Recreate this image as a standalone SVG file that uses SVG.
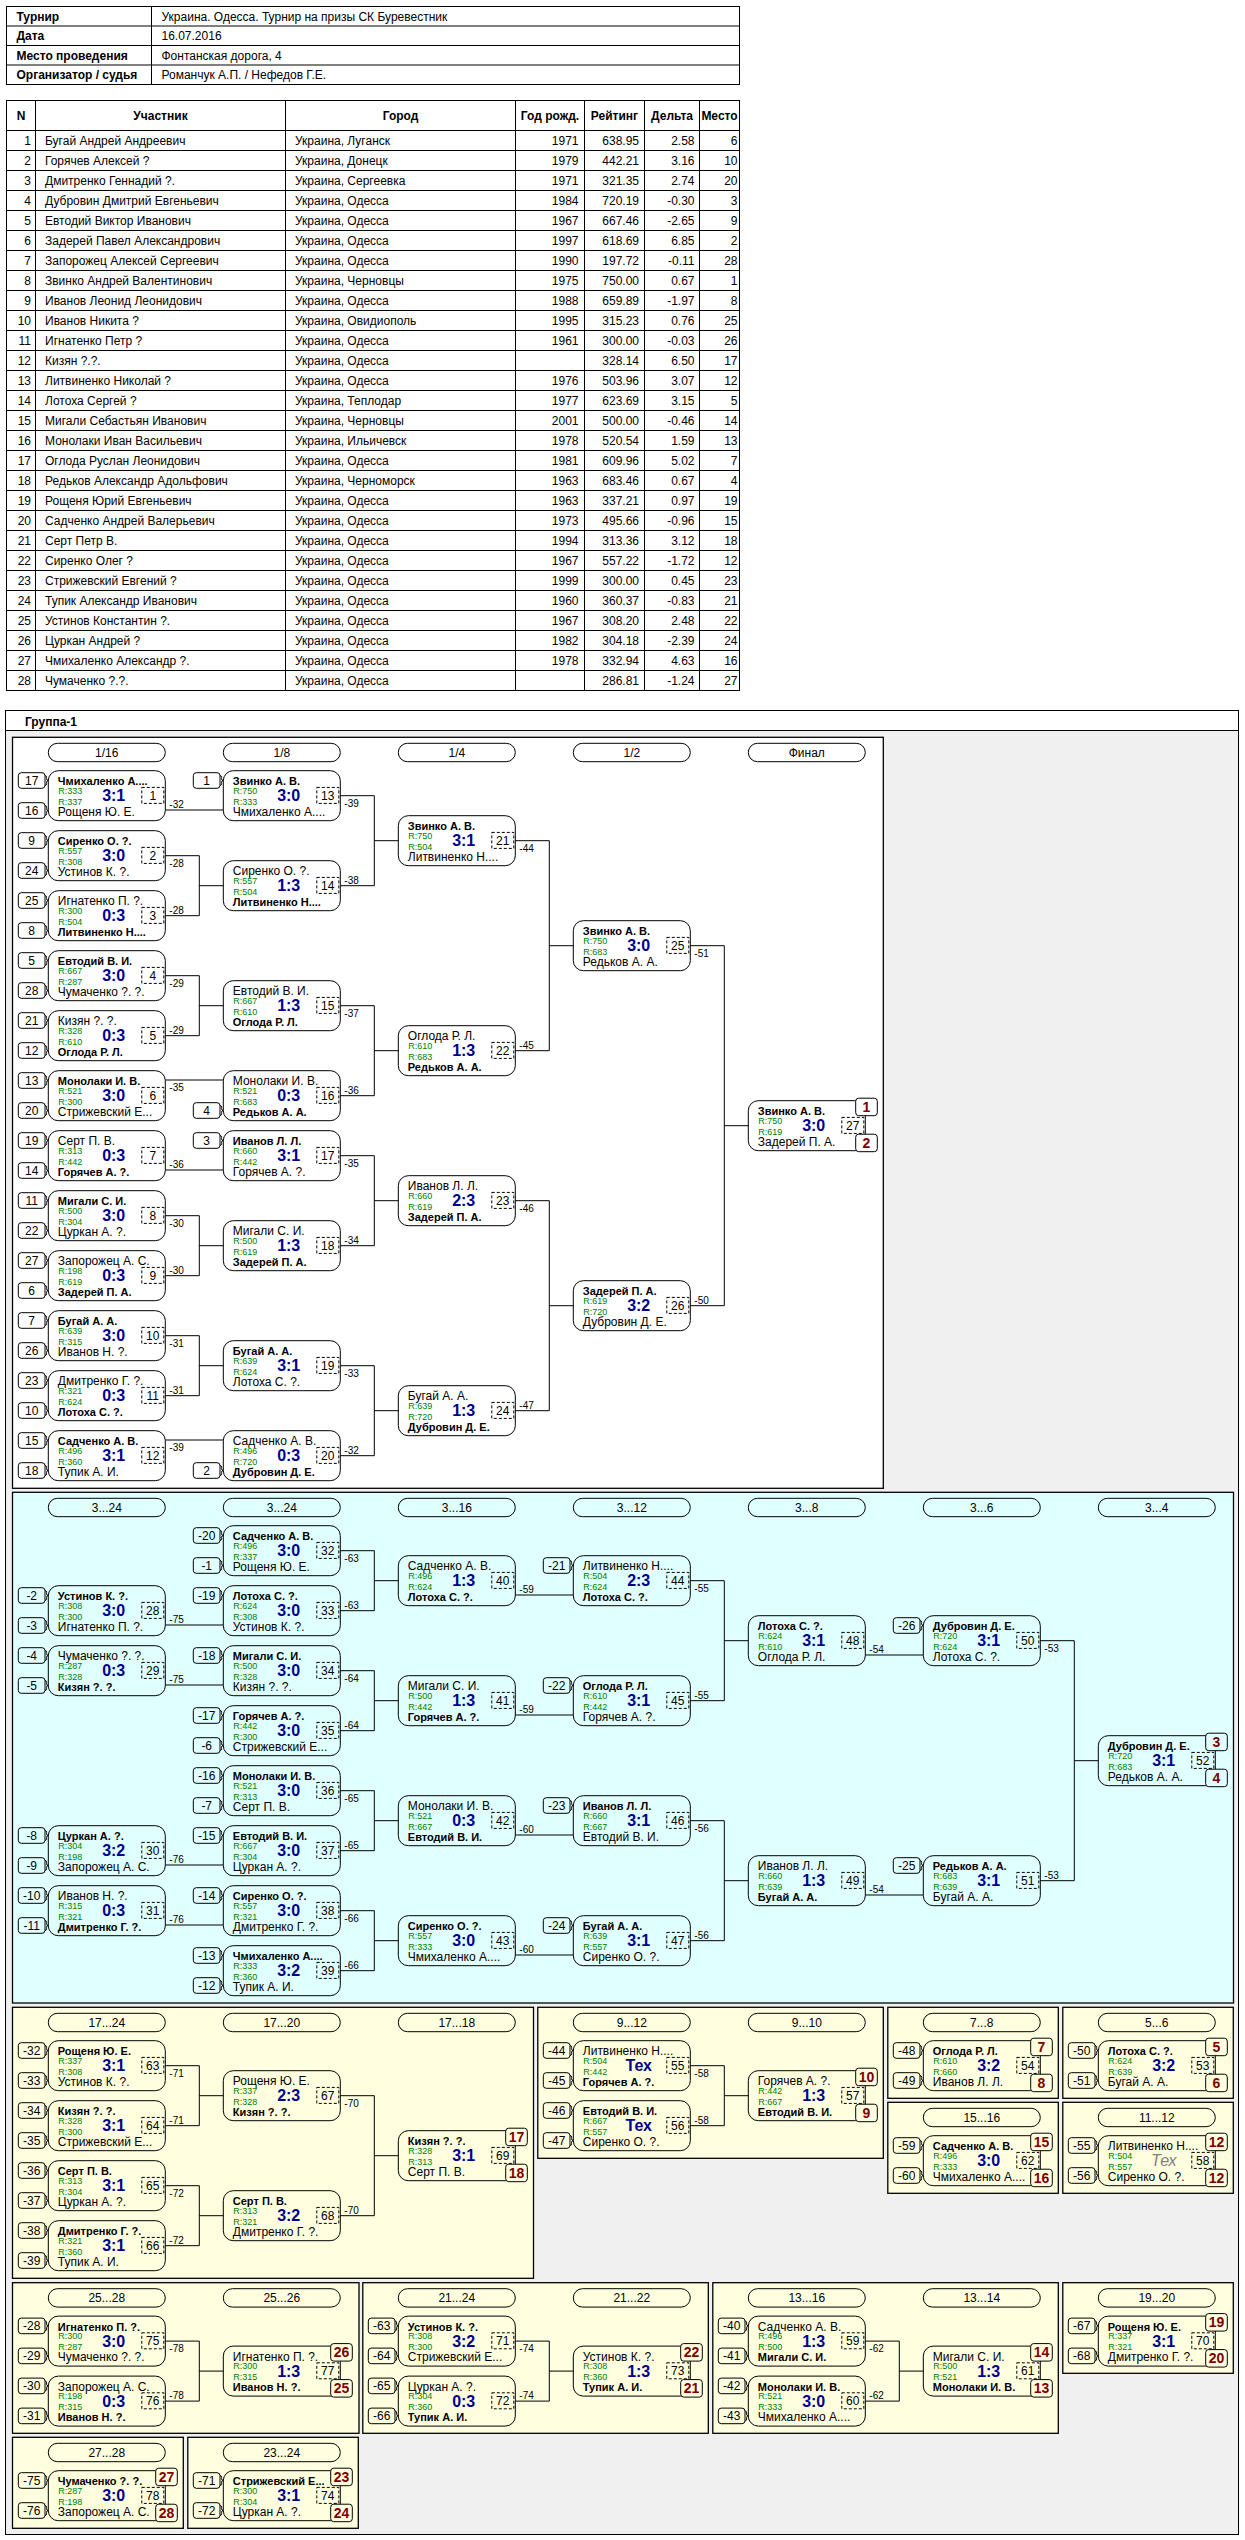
<svg xmlns="http://www.w3.org/2000/svg" width="1245" height="2540" viewBox="0 0 1245 2540">
<style>
text{font-family:"Liberation Sans",Arial,sans-serif;font-size:12px;fill:#000}
.hb{font-weight:bold}
.c{text-anchor:middle}
.e{text-anchor:end}
.nb{font-weight:bold;font-size:11px}
.r{font-size:9px;fill:#008000}
.s{font-weight:bold;font-size:16px;fill:#000090;text-anchor:middle}
.tx{font-style:italic;font-size:16px;fill:#808080;text-anchor:middle}
.l{font-size:10px}
.p{font-weight:bold;font-size:14px;fill:#800000;text-anchor:middle}
.mb,.db,.sb,.cn,.pl{fill:none;stroke:#000;stroke-width:1}
.db{stroke-dasharray:3 2}
.pbx{stroke:#000;stroke-width:1}
.pan{stroke:#000;stroke-width:1.3}
.tl{fill:none;stroke:#000;stroke-width:1}
</style>
<defs>
<g id="mf"><rect class="mb" width="117" height="50" rx="10"/><rect class="db" x="93.5" y="16.7" width="22" height="16"/></g>
<g id="sT"><rect class="sb" x="-30" y="2" width="26.7" height="15.6" rx="3"/><path class="cn" d="M-3.3,4.8q1.6,0 1.6,2v1.2q0,1.8 1.7,1.8q-1.7,0 -1.7,1.8v1.2q0,2 -1.6,2"/></g>
<g id="sB"><rect class="sb" x="-30" y="32" width="26.7" height="15.6" rx="3"/><path class="cn" d="M-3.3,34.8q1.6,0 1.6,2v1.2q0,1.8 1.7,1.8q-1.7,0 -1.7,1.8v1.2q0,2 -1.6,2"/></g>
<rect id="pT" class="pbx" x="107.4" y="-2.5" width="21.6" height="17.5" rx="3"/>
<rect id="pB" class="pbx" x="107.4" y="33.5" width="21.6" height="17.5" rx="3"/>
<rect id="pill" class="pl" width="117" height="18.4" rx="9.2"/>
</defs>
<rect width="1245" height="2540" fill="#fff"/>

<g id="info-table">
<rect x="6.5" y="6.5" width="733" height="78" fill="#fff" stroke="#000"/>
<path class="tl" d="M6.5,26H739.5M6.5,45.5H739.5M6.5,65H739.5M151.5,6.5V84.5"/>
<text class="hb" x="16.5" y="20.5">Турнир</text><text x="161.5" y="20.5">Украина. Одесса. Турнир на призы СК Буревестник</text>
<text class="hb" x="16.5" y="40">Дата</text><text x="161.5" y="40">16.07.2016</text>
<text class="hb" x="16.5" y="59.5">Место проведения</text><text x="161.5" y="59.5">Фонтанская дорога, 4</text>
<text class="hb" x="16.5" y="79">Организатор / судья</text><text x="161.5" y="79">Романчук А.П. / Нефедов Г.Е.</text>
</g>

<g id="participants">
<rect x="6.5" y="100.5" width="733" height="590" fill="#fff" stroke="#000"/>
<path class="tl" d="M6.5,130.5H739.5M6.5,150.5H739.5M6.5,170.5H739.5M6.5,190.5H739.5M6.5,210.5H739.5M6.5,230.5H739.5M6.5,250.5H739.5M6.5,270.5H739.5M6.5,290.5H739.5M6.5,310.5H739.5M6.5,330.5H739.5M6.5,350.5H739.5M6.5,370.5H739.5M6.5,390.5H739.5M6.5,410.5H739.5M6.5,430.5H739.5M6.5,450.5H739.5M6.5,470.5H739.5M6.5,490.5H739.5M6.5,510.5H739.5M6.5,530.5H739.5M6.5,550.5H739.5M6.5,570.5H739.5M6.5,590.5H739.5M6.5,610.5H739.5M6.5,630.5H739.5M6.5,650.5H739.5M6.5,670.5H739.5M35.5,100.5V690.5M285.5,100.5V690.5M515.5,100.5V690.5M584.5,100.5V690.5M644.5,100.5V690.5M699.5,100.5V690.5"/>
<g class="hb"><text class="hb c" x="21" y="120">N</text><text class="hb c" x="160.5" y="120">Участник</text><text class="hb c" x="400.5" y="120">Город</text><text class="hb c" x="550" y="120">Год рожд.</text><text class="hb c" x="614.5" y="120">Рейтинг</text><text class="hb c" x="672" y="120">Дельта</text><text class="hb c" x="719.5" y="120">Место</text></g>
<g transform="translate(0 145)"><text class="e" x="31">1</text><text x="45">Бугай Андрей Андреевич</text><text x="295">Украина, Луганск</text><text class="e" x="578.5">1971</text><text class="e" x="639">638.95</text><text class="e" x="694.5">2.58</text><text class="e" x="737.5">6</text></g>
<g transform="translate(0 165)"><text class="e" x="31">2</text><text x="45">Горячев Алексей ?</text><text x="295">Украина, Донецк</text><text class="e" x="578.5">1979</text><text class="e" x="639">442.21</text><text class="e" x="694.5">3.16</text><text class="e" x="737.5">10</text></g>
<g transform="translate(0 185)"><text class="e" x="31">3</text><text x="45">Дмитренко Геннадий ?.</text><text x="295">Украина, Сергеевка</text><text class="e" x="578.5">1971</text><text class="e" x="639">321.35</text><text class="e" x="694.5">2.74</text><text class="e" x="737.5">20</text></g>
<g transform="translate(0 205)"><text class="e" x="31">4</text><text x="45">Дубровин Дмитрий Евгеньевич</text><text x="295">Украина, Одесса</text><text class="e" x="578.5">1984</text><text class="e" x="639">720.19</text><text class="e" x="694.5">-0.30</text><text class="e" x="737.5">3</text></g>
<g transform="translate(0 225)"><text class="e" x="31">5</text><text x="45">Евтодий Виктор Иванович</text><text x="295">Украина, Одесса</text><text class="e" x="578.5">1967</text><text class="e" x="639">667.46</text><text class="e" x="694.5">-2.65</text><text class="e" x="737.5">9</text></g>
<g transform="translate(0 245)"><text class="e" x="31">6</text><text x="45">Задерей Павел Александрович</text><text x="295">Украина, Одесса</text><text class="e" x="578.5">1997</text><text class="e" x="639">618.69</text><text class="e" x="694.5">6.85</text><text class="e" x="737.5">2</text></g>
<g transform="translate(0 265)"><text class="e" x="31">7</text><text x="45">Запорожец Алексей Сергеевич</text><text x="295">Украина, Одесса</text><text class="e" x="578.5">1990</text><text class="e" x="639">197.72</text><text class="e" x="694.5">-0.11</text><text class="e" x="737.5">28</text></g>
<g transform="translate(0 285)"><text class="e" x="31">8</text><text x="45">Звинко Андрей Валентинович</text><text x="295">Украина, Черновцы</text><text class="e" x="578.5">1975</text><text class="e" x="639">750.00</text><text class="e" x="694.5">0.67</text><text class="e" x="737.5">1</text></g>
<g transform="translate(0 305)"><text class="e" x="31">9</text><text x="45">Иванов Леонид Леонидович</text><text x="295">Украина, Одесса</text><text class="e" x="578.5">1988</text><text class="e" x="639">659.89</text><text class="e" x="694.5">-1.97</text><text class="e" x="737.5">8</text></g>
<g transform="translate(0 325)"><text class="e" x="31">10</text><text x="45">Иванов Никита ?</text><text x="295">Украина, Овидиополь</text><text class="e" x="578.5">1995</text><text class="e" x="639">315.23</text><text class="e" x="694.5">0.76</text><text class="e" x="737.5">25</text></g>
<g transform="translate(0 345)"><text class="e" x="31">11</text><text x="45">Игнатенко Петр ?</text><text x="295">Украина, Одесса</text><text class="e" x="578.5">1961</text><text class="e" x="639">300.00</text><text class="e" x="694.5">-0.03</text><text class="e" x="737.5">26</text></g>
<g transform="translate(0 365)"><text class="e" x="31">12</text><text x="45">Кизян ?.?.</text><text x="295">Украина, Одесса</text><text class="e" x="639">328.14</text><text class="e" x="694.5">6.50</text><text class="e" x="737.5">17</text></g>
<g transform="translate(0 385)"><text class="e" x="31">13</text><text x="45">Литвиненко Николай ?</text><text x="295">Украина, Одесса</text><text class="e" x="578.5">1976</text><text class="e" x="639">503.96</text><text class="e" x="694.5">3.07</text><text class="e" x="737.5">12</text></g>
<g transform="translate(0 405)"><text class="e" x="31">14</text><text x="45">Лотоха Сергей ?</text><text x="295">Украина, Теплодар</text><text class="e" x="578.5">1977</text><text class="e" x="639">623.69</text><text class="e" x="694.5">3.15</text><text class="e" x="737.5">5</text></g>
<g transform="translate(0 425)"><text class="e" x="31">15</text><text x="45">Мигали Себастьян Иванович</text><text x="295">Украина, Черновцы</text><text class="e" x="578.5">2001</text><text class="e" x="639">500.00</text><text class="e" x="694.5">-0.46</text><text class="e" x="737.5">14</text></g>
<g transform="translate(0 445)"><text class="e" x="31">16</text><text x="45">Монолаки Иван Васильевич</text><text x="295">Украина, Ильичевск</text><text class="e" x="578.5">1978</text><text class="e" x="639">520.54</text><text class="e" x="694.5">1.59</text><text class="e" x="737.5">13</text></g>
<g transform="translate(0 465)"><text class="e" x="31">17</text><text x="45">Оглода Руслан Леонидович</text><text x="295">Украина, Одесса</text><text class="e" x="578.5">1981</text><text class="e" x="639">609.96</text><text class="e" x="694.5">5.02</text><text class="e" x="737.5">7</text></g>
<g transform="translate(0 485)"><text class="e" x="31">18</text><text x="45">Редьков Александр Адольфович</text><text x="295">Украина, Черноморск</text><text class="e" x="578.5">1963</text><text class="e" x="639">683.46</text><text class="e" x="694.5">0.67</text><text class="e" x="737.5">4</text></g>
<g transform="translate(0 505)"><text class="e" x="31">19</text><text x="45">Рощеня Юрий Евгеньевич</text><text x="295">Украина, Одесса</text><text class="e" x="578.5">1963</text><text class="e" x="639">337.21</text><text class="e" x="694.5">0.97</text><text class="e" x="737.5">19</text></g>
<g transform="translate(0 525)"><text class="e" x="31">20</text><text x="45">Садченко Андрей Валерьевич</text><text x="295">Украина, Одесса</text><text class="e" x="578.5">1973</text><text class="e" x="639">495.66</text><text class="e" x="694.5">-0.96</text><text class="e" x="737.5">15</text></g>
<g transform="translate(0 545)"><text class="e" x="31">21</text><text x="45">Серт Петр В.</text><text x="295">Украина, Одесса</text><text class="e" x="578.5">1994</text><text class="e" x="639">313.36</text><text class="e" x="694.5">3.12</text><text class="e" x="737.5">18</text></g>
<g transform="translate(0 565)"><text class="e" x="31">22</text><text x="45">Сиренко Олег ?</text><text x="295">Украина, Одесса</text><text class="e" x="578.5">1967</text><text class="e" x="639">557.22</text><text class="e" x="694.5">-1.72</text><text class="e" x="737.5">12</text></g>
<g transform="translate(0 585)"><text class="e" x="31">23</text><text x="45">Стрижевский Евгений ?</text><text x="295">Украина, Одесса</text><text class="e" x="578.5">1999</text><text class="e" x="639">300.00</text><text class="e" x="694.5">0.45</text><text class="e" x="737.5">23</text></g>
<g transform="translate(0 605)"><text class="e" x="31">24</text><text x="45">Тупик Александр Иванович</text><text x="295">Украина, Одесса</text><text class="e" x="578.5">1960</text><text class="e" x="639">360.37</text><text class="e" x="694.5">-0.83</text><text class="e" x="737.5">21</text></g>
<g transform="translate(0 625)"><text class="e" x="31">25</text><text x="45">Устинов Константин ?.</text><text x="295">Украина, Одесса</text><text class="e" x="578.5">1967</text><text class="e" x="639">308.20</text><text class="e" x="694.5">2.48</text><text class="e" x="737.5">22</text></g>
<g transform="translate(0 645)"><text class="e" x="31">26</text><text x="45">Цуркан Андрей ?</text><text x="295">Украина, Одесса</text><text class="e" x="578.5">1982</text><text class="e" x="639">304.18</text><text class="e" x="694.5">-2.39</text><text class="e" x="737.5">24</text></g>
<g transform="translate(0 665)"><text class="e" x="31">27</text><text x="45">Чмихаленко Александр ?.</text><text x="295">Украина, Одесса</text><text class="e" x="578.5">1978</text><text class="e" x="639">332.94</text><text class="e" x="694.5">4.63</text><text class="e" x="737.5">16</text></g>
<g transform="translate(0 685)"><text class="e" x="31">28</text><text x="45">Чумаченко ?.?.</text><text x="295">Украина, Одесса</text><text class="e" x="639">286.81</text><text class="e" x="694.5">-1.24</text><text class="e" x="737.5">27</text></g>
</g>

<g id="group-frame">
<rect x="5.5" y="710.5" width="1233" height="1824" fill="#f0f0f0" stroke="#000"/>
<rect x="6" y="711" width="1232" height="19.5" fill="#fff"/>
<path class="tl" d="M5.5,730.5H1238.5"/>
<text class="hb" x="25" y="725.5">Группа-1</text>
</g>

<g id="panels">
<rect class="pan" x="12.5" y="737.3" width="870.8" height="751" fill="#fff"/>
<rect class="pan" x="12.5" y="1492.3" width="1221" height="510.7" fill="#e0ffff"/>
<rect class="pan" x="12.5" y="2007.3" width="521" height="271" fill="#ffffe0"/>
<rect class="pan" x="537.8" y="2007.3" width="345.5" height="151" fill="#ffffe0"/>
<rect class="pan" x="887.8" y="2007.3" width="170.5" height="91" fill="#ffffe0"/>
<rect class="pan" x="1062.8" y="2007.3" width="170.5" height="91" fill="#ffffe0"/>
<rect class="pan" x="887.8" y="2102.3" width="170.5" height="91" fill="#ffffe0"/>
<rect class="pan" x="1062.8" y="2102.3" width="170.5" height="91" fill="#ffffe0"/>
<rect class="pan" x="12.5" y="2282.7" width="346.5" height="150.6" fill="#ffffe0"/>
<rect class="pan" x="362.8" y="2282.7" width="345.5" height="150.6" fill="#ffffe0"/>
<rect class="pan" x="712.8" y="2282.7" width="345.5" height="150.6" fill="#ffffe0"/>
<rect class="pan" x="1062.8" y="2282.7" width="170.5" height="90.6" fill="#ffffe0"/>
<rect class="pan" x="12.5" y="2437.3" width="170.8" height="91" fill="#ffffe0"/>
<rect class="pan" x="187.8" y="2437.3" width="170.5" height="91" fill="#ffffe0"/>
</g>

<g id="round-labels">
<g transform="translate(48.3 743.3)"><use href="#pill"/><text class="c" x="58.5" y="13.3">1/16</text></g>
<g transform="translate(223.3 743.3)"><use href="#pill"/><text class="c" x="58.5" y="13.3">1/8</text></g>
<g transform="translate(398.3 743.3)"><use href="#pill"/><text class="c" x="58.5" y="13.3">1/4</text></g>
<g transform="translate(573.3 743.3)"><use href="#pill"/><text class="c" x="58.5" y="13.3">1/2</text></g>
<g transform="translate(748.3 743.3)"><use href="#pill"/><text class="c" x="58.5" y="13.3">Финал</text></g>
<g transform="translate(48.3 1498.3)"><use href="#pill"/><text class="c" x="58.5" y="13.3">3...24</text></g>
<g transform="translate(223.3 1498.3)"><use href="#pill"/><text class="c" x="58.5" y="13.3">3...24</text></g>
<g transform="translate(398.3 1498.3)"><use href="#pill"/><text class="c" x="58.5" y="13.3">3...16</text></g>
<g transform="translate(573.3 1498.3)"><use href="#pill"/><text class="c" x="58.5" y="13.3">3...12</text></g>
<g transform="translate(748.3 1498.3)"><use href="#pill"/><text class="c" x="58.5" y="13.3">3...8</text></g>
<g transform="translate(923.3 1498.3)"><use href="#pill"/><text class="c" x="58.5" y="13.3">3...6</text></g>
<g transform="translate(1098.3 1498.3)"><use href="#pill"/><text class="c" x="58.5" y="13.3">3...4</text></g>
<g transform="translate(48.3 2013.3)"><use href="#pill"/><text class="c" x="58.5" y="13.3">17...24</text></g>
<g transform="translate(223.3 2013.3)"><use href="#pill"/><text class="c" x="58.5" y="13.3">17...20</text></g>
<g transform="translate(398.3 2013.3)"><use href="#pill"/><text class="c" x="58.5" y="13.3">17...18</text></g>
<g transform="translate(573.3 2013.3)"><use href="#pill"/><text class="c" x="58.5" y="13.3">9...12</text></g>
<g transform="translate(748.3 2013.3)"><use href="#pill"/><text class="c" x="58.5" y="13.3">9...10</text></g>
<g transform="translate(923.3 2013.3)"><use href="#pill"/><text class="c" x="58.5" y="13.3">7...8</text></g>
<g transform="translate(1098.3 2013.3)"><use href="#pill"/><text class="c" x="58.5" y="13.3">5...6</text></g>
<g transform="translate(923.3 2108.3)"><use href="#pill"/><text class="c" x="58.5" y="13.3">15...16</text></g>
<g transform="translate(1098.3 2108.3)"><use href="#pill"/><text class="c" x="58.5" y="13.3">11...12</text></g>
<g transform="translate(48.3 2288.7)"><use href="#pill"/><text class="c" x="58.5" y="13.3">25...28</text></g>
<g transform="translate(223.3 2288.7)"><use href="#pill"/><text class="c" x="58.5" y="13.3">25...26</text></g>
<g transform="translate(398.3 2288.7)"><use href="#pill"/><text class="c" x="58.5" y="13.3">21...24</text></g>
<g transform="translate(573.3 2288.7)"><use href="#pill"/><text class="c" x="58.5" y="13.3">21...22</text></g>
<g transform="translate(748.3 2288.7)"><use href="#pill"/><text class="c" x="58.5" y="13.3">13...16</text></g>
<g transform="translate(923.3 2288.7)"><use href="#pill"/><text class="c" x="58.5" y="13.3">13...14</text></g>
<g transform="translate(1098.3 2288.7)"><use href="#pill"/><text class="c" x="58.5" y="13.3">19...20</text></g>
<g transform="translate(48.3 2443.3)"><use href="#pill"/><text class="c" x="58.5" y="13.3">27...28</text></g>
<g transform="translate(223.3 2443.3)"><use href="#pill"/><text class="c" x="58.5" y="13.3">23...24</text></g>
</g>

<g id="connectors">
<path class="cn" d="M165.3,810H223.3M165.3,855.7H199.3V915.7H165.3M199.3,885.7H223.3M165.3,975.7H199.3V1035.7H165.3M199.3,1005.7H223.3M165.3,1080H223.3M165.3,1170H223.3M165.3,1215.7H199.3V1275.7H165.3M199.3,1245.7H223.3M165.3,1335.7H199.3V1395.7H165.3M199.3,1365.7H223.3M165.3,1440H223.3M340.3,795.7H374.3V885.7H340.3M374.3,840.7H398.3M340.3,1005.7H374.3V1095.7H340.3M374.3,1050.7H398.3M340.3,1155.7H374.3V1245.7H340.3M374.3,1200.7H398.3M340.3,1365.7H374.3V1455.7H340.3M374.3,1410.7H398.3M515.3,840.7H549.3V1050.7H515.3M549.3,945.7H573.3M515.3,1200.7H549.3V1410.7H515.3M549.3,1305.7H573.3M690.3,945.7H724.3V1305.7H690.3M724.3,1125.7H748.3"/>
<path class="cn" d="M165.3,1625H223.3M165.3,1685H223.3M165.3,1865H223.3M165.3,1925H223.3M340.3,1550.7H374.3V1610.7H340.3M374.3,1580.7H398.3M340.3,1670.7H374.3V1730.7H340.3M374.3,1700.7H398.3M340.3,1790.7H374.3V1850.7H340.3M374.3,1820.7H398.3M340.3,1910.7H374.3V1970.7H340.3M374.3,1940.7H398.3M515.3,1595H573.3M515.3,1715H573.3M515.3,1835H573.3M515.3,1955H573.3M690.3,1580.7H724.3V1700.7H690.3M724.3,1640.7H748.3M690.3,1820.7H724.3V1940.7H690.3M724.3,1880.7H748.3M865.3,1655H923.3M865.3,1895H923.3M1040.3,1640.7H1074.3V1880.7H1040.3M1074.3,1760.7H1098.3"/>
<path class="cn" d="M165.3,2065.7H199.3V2125.7H165.3M199.3,2095.7H223.3M165.3,2185.7H199.3V2245.7H165.3M199.3,2215.7H223.3M340.3,2095.7H374.3V2215.7H340.3M374.3,2155.7H398.3M690.3,2065.7H724.3V2125.7H690.3M724.3,2095.7H748.3M165.3,2341.1H199.3V2401.1H165.3M199.3,2371.1H223.3M515.3,2341.1H549.3V2401.1H515.3M549.3,2371.1H573.3M865.3,2341.1H899.3V2401.1H865.3M899.3,2371.1H923.3"/>
<g class="l">
<text class="l" x="169.3" y="808">-32</text><text class="l" x="169.3" y="866.7">-28</text><text class="l" x="169.3" y="913.7">-28</text><text class="l" x="169.3" y="986.7">-29</text><text class="l" x="169.3" y="1033.7">-29</text><text class="l" x="169.3" y="1091">-35</text><text class="l" x="169.3" y="1168">-36</text><text class="l" x="169.3" y="1226.7">-30</text><text class="l" x="169.3" y="1273.7">-30</text><text class="l" x="169.3" y="1346.7">-31</text><text class="l" x="169.3" y="1393.7">-31</text><text class="l" x="169.3" y="1451">-39</text>
<text class="l" x="344.3" y="806.7">-39</text><text class="l" x="344.3" y="883.7">-38</text><text class="l" x="344.3" y="1016.7">-37</text><text class="l" x="344.3" y="1093.7">-36</text><text class="l" x="344.3" y="1166.7">-35</text><text class="l" x="344.3" y="1243.7">-34</text><text class="l" x="344.3" y="1376.7">-33</text><text class="l" x="344.3" y="1453.7">-32</text>
<text class="l" x="519.3" y="851.7">-44</text><text class="l" x="519.3" y="1048.7">-45</text><text class="l" x="519.3" y="1211.7">-46</text><text class="l" x="519.3" y="1408.7">-47</text>
<text class="l" x="694.3" y="956.7">-51</text><text class="l" x="694.3" y="1303.7">-50</text>
<text class="l" x="169.3" y="1623">-75</text><text class="l" x="169.3" y="1683">-75</text><text class="l" x="169.3" y="1863">-76</text><text class="l" x="169.3" y="1923">-76</text>
<text class="l" x="344.3" y="1561.7">-63</text><text class="l" x="344.3" y="1608.7">-63</text><text class="l" x="344.3" y="1681.7">-64</text><text class="l" x="344.3" y="1728.7">-64</text><text class="l" x="344.3" y="1801.7">-65</text><text class="l" x="344.3" y="1848.7">-65</text><text class="l" x="344.3" y="1921.7">-66</text><text class="l" x="344.3" y="1968.7">-66</text>
<text class="l" x="519.3" y="1593">-59</text><text class="l" x="519.3" y="1713">-59</text><text class="l" x="519.3" y="1833">-60</text><text class="l" x="519.3" y="1953">-60</text>
<text class="l" x="694.3" y="1591.7">-55</text><text class="l" x="694.3" y="1698.7">-55</text><text class="l" x="694.3" y="1831.7">-56</text><text class="l" x="694.3" y="1938.7">-56</text>
<text class="l" x="869.3" y="1653">-54</text><text class="l" x="869.3" y="1893">-54</text>
<text class="l" x="1044.3" y="1651.7">-53</text><text class="l" x="1044.3" y="1878.7">-53</text>
<text class="l" x="169.3" y="2076.7">-71</text><text class="l" x="169.3" y="2123.7">-71</text><text class="l" x="169.3" y="2196.7">-72</text><text class="l" x="169.3" y="2243.7">-72</text>
<text class="l" x="344.3" y="2106.7">-70</text><text class="l" x="344.3" y="2213.7">-70</text>
<text class="l" x="694.3" y="2076.7">-58</text><text class="l" x="694.3" y="2123.7">-58</text>
<text class="l" x="169.3" y="2352.1">-78</text><text class="l" x="169.3" y="2399.1">-78</text>
<text class="l" x="519.3" y="2352.1">-74</text><text class="l" x="519.3" y="2399.1">-74</text>
<text class="l" x="869.3" y="2352.1">-62</text><text class="l" x="869.3" y="2399.1">-62</text>
</g>
</g>

<g id="main-bracket">
<g id="m1" transform="translate(48.3 770.7)"><use href="#mf"/><text class="c" x="104.5" y="29.3">1</text><text class="nb" x="9.5" y="14.5">Чмихаленко А....</text><text class="r" x="10" y="23.3">R:333</text><text class="s" x="65.4" y="30.7">3:1</text><text class="r" x="10" y="34.3">R:337</text><text x="9.5" y="45">Рощеня Ю. Е.</text><use href="#sT"/><text class="c" x="-16.6" y="14">17</text><use href="#sB"/><text class="c" x="-16.6" y="44">16</text></g>
<g id="m2" transform="translate(48.3 830.7)"><use href="#mf"/><text class="c" x="104.5" y="29.3">2</text><text class="nb" x="9.5" y="14.5">Сиренко О. ?.</text><text class="r" x="10" y="23.3">R:557</text><text class="s" x="65.4" y="30.7">3:0</text><text class="r" x="10" y="34.3">R:308</text><text x="9.5" y="45">Устинов К. ?.</text><use href="#sT"/><text class="c" x="-16.6" y="14">9</text><use href="#sB"/><text class="c" x="-16.6" y="44">24</text></g>
<g id="m3" transform="translate(48.3 890.7)"><use href="#mf"/><text class="c" x="104.5" y="29.3">3</text><text x="9.5" y="14.5">Игнатенко П. ?.</text><text class="r" x="10" y="23.3">R:300</text><text class="s" x="65.4" y="30.7">0:3</text><text class="r" x="10" y="34.3">R:504</text><text class="nb" x="9.5" y="45">Литвиненко Н....</text><use href="#sT"/><text class="c" x="-16.6" y="14">25</text><use href="#sB"/><text class="c" x="-16.6" y="44">8</text></g>
<g id="m4" transform="translate(48.3 950.7)"><use href="#mf"/><text class="c" x="104.5" y="29.3">4</text><text class="nb" x="9.5" y="14.5">Евтодий В. И.</text><text class="r" x="10" y="23.3">R:667</text><text class="s" x="65.4" y="30.7">3:0</text><text class="r" x="10" y="34.3">R:287</text><text x="9.5" y="45">Чумаченко ?. ?.</text><use href="#sT"/><text class="c" x="-16.6" y="14">5</text><use href="#sB"/><text class="c" x="-16.6" y="44">28</text></g>
<g id="m5" transform="translate(48.3 1010.7)"><use href="#mf"/><text class="c" x="104.5" y="29.3">5</text><text x="9.5" y="14.5">Кизян ?. ?.</text><text class="r" x="10" y="23.3">R:328</text><text class="s" x="65.4" y="30.7">0:3</text><text class="r" x="10" y="34.3">R:610</text><text class="nb" x="9.5" y="45">Оглода Р. Л.</text><use href="#sT"/><text class="c" x="-16.6" y="14">21</text><use href="#sB"/><text class="c" x="-16.6" y="44">12</text></g>
<g id="m6" transform="translate(48.3 1070.7)"><use href="#mf"/><text class="c" x="104.5" y="29.3">6</text><text class="nb" x="9.5" y="14.5">Монолаки И. В.</text><text class="r" x="10" y="23.3">R:521</text><text class="s" x="65.4" y="30.7">3:0</text><text class="r" x="10" y="34.3">R:300</text><text x="9.5" y="45">Стрижевский Е...</text><use href="#sT"/><text class="c" x="-16.6" y="14">13</text><use href="#sB"/><text class="c" x="-16.6" y="44">20</text></g>
<g id="m7" transform="translate(48.3 1130.7)"><use href="#mf"/><text class="c" x="104.5" y="29.3">7</text><text x="9.5" y="14.5">Серт П. В.</text><text class="r" x="10" y="23.3">R:313</text><text class="s" x="65.4" y="30.7">0:3</text><text class="r" x="10" y="34.3">R:442</text><text class="nb" x="9.5" y="45">Горячев А. ?.</text><use href="#sT"/><text class="c" x="-16.6" y="14">19</text><use href="#sB"/><text class="c" x="-16.6" y="44">14</text></g>
<g id="m8" transform="translate(48.3 1190.7)"><use href="#mf"/><text class="c" x="104.5" y="29.3">8</text><text class="nb" x="9.5" y="14.5">Мигали С. И.</text><text class="r" x="10" y="23.3">R:500</text><text class="s" x="65.4" y="30.7">3:0</text><text class="r" x="10" y="34.3">R:304</text><text x="9.5" y="45">Цуркан А. ?.</text><use href="#sT"/><text class="c" x="-16.6" y="14">11</text><use href="#sB"/><text class="c" x="-16.6" y="44">22</text></g>
<g id="m9" transform="translate(48.3 1250.7)"><use href="#mf"/><text class="c" x="104.5" y="29.3">9</text><text x="9.5" y="14.5">Запорожец А. С.</text><text class="r" x="10" y="23.3">R:198</text><text class="s" x="65.4" y="30.7">0:3</text><text class="r" x="10" y="34.3">R:619</text><text class="nb" x="9.5" y="45">Задерей П. А.</text><use href="#sT"/><text class="c" x="-16.6" y="14">27</text><use href="#sB"/><text class="c" x="-16.6" y="44">6</text></g>
<g id="m10" transform="translate(48.3 1310.7)"><use href="#mf"/><text class="c" x="104.5" y="29.3">10</text><text class="nb" x="9.5" y="14.5">Бугай А. А.</text><text class="r" x="10" y="23.3">R:639</text><text class="s" x="65.4" y="30.7">3:0</text><text class="r" x="10" y="34.3">R:315</text><text x="9.5" y="45">Иванов Н. ?.</text><use href="#sT"/><text class="c" x="-16.6" y="14">7</text><use href="#sB"/><text class="c" x="-16.6" y="44">26</text></g>
<g id="m11" transform="translate(48.3 1370.7)"><use href="#mf"/><text class="c" x="104.5" y="29.3">11</text><text x="9.5" y="14.5">Дмитренко Г. ?.</text><text class="r" x="10" y="23.3">R:321</text><text class="s" x="65.4" y="30.7">0:3</text><text class="r" x="10" y="34.3">R:624</text><text class="nb" x="9.5" y="45">Лотоха С. ?.</text><use href="#sT"/><text class="c" x="-16.6" y="14">23</text><use href="#sB"/><text class="c" x="-16.6" y="44">10</text></g>
<g id="m12" transform="translate(48.3 1430.7)"><use href="#mf"/><text class="c" x="104.5" y="29.3">12</text><text class="nb" x="9.5" y="14.5">Садченко А. В.</text><text class="r" x="10" y="23.3">R:496</text><text class="s" x="65.4" y="30.7">3:1</text><text class="r" x="10" y="34.3">R:360</text><text x="9.5" y="45">Тупик А. И.</text><use href="#sT"/><text class="c" x="-16.6" y="14">15</text><use href="#sB"/><text class="c" x="-16.6" y="44">18</text></g>
<g id="m13" transform="translate(223.3 770.7)"><use href="#mf"/><text class="c" x="104.5" y="29.3">13</text><text class="nb" x="9.5" y="14.5">Звинко А. В.</text><text class="r" x="10" y="23.3">R:750</text><text class="s" x="65.4" y="30.7">3:0</text><text class="r" x="10" y="34.3">R:333</text><text x="9.5" y="45">Чмихаленко А....</text><use href="#sT"/><text class="c" x="-16.6" y="14">1</text></g>
<g id="m14" transform="translate(223.3 860.7)"><use href="#mf"/><text class="c" x="104.5" y="29.3">14</text><text x="9.5" y="14.5">Сиренко О. ?.</text><text class="r" x="10" y="23.3">R:557</text><text class="s" x="65.4" y="30.7">1:3</text><text class="r" x="10" y="34.3">R:504</text><text class="nb" x="9.5" y="45">Литвиненко Н....</text></g>
<g id="m15" transform="translate(223.3 980.7)"><use href="#mf"/><text class="c" x="104.5" y="29.3">15</text><text x="9.5" y="14.5">Евтодий В. И.</text><text class="r" x="10" y="23.3">R:667</text><text class="s" x="65.4" y="30.7">1:3</text><text class="r" x="10" y="34.3">R:610</text><text class="nb" x="9.5" y="45">Оглода Р. Л.</text></g>
<g id="m16" transform="translate(223.3 1070.7)"><use href="#mf"/><text class="c" x="104.5" y="29.3">16</text><text x="9.5" y="14.5">Монолаки И. В.</text><text class="r" x="10" y="23.3">R:521</text><text class="s" x="65.4" y="30.7">0:3</text><text class="r" x="10" y="34.3">R:683</text><text class="nb" x="9.5" y="45">Редьков А. А.</text><use href="#sB"/><text class="c" x="-16.6" y="44">4</text></g>
<g id="m17" transform="translate(223.3 1130.7)"><use href="#mf"/><text class="c" x="104.5" y="29.3">17</text><text class="nb" x="9.5" y="14.5">Иванов Л. Л.</text><text class="r" x="10" y="23.3">R:660</text><text class="s" x="65.4" y="30.7">3:1</text><text class="r" x="10" y="34.3">R:442</text><text x="9.5" y="45">Горячев А. ?.</text><use href="#sT"/><text class="c" x="-16.6" y="14">3</text></g>
<g id="m18" transform="translate(223.3 1220.7)"><use href="#mf"/><text class="c" x="104.5" y="29.3">18</text><text x="9.5" y="14.5">Мигали С. И.</text><text class="r" x="10" y="23.3">R:500</text><text class="s" x="65.4" y="30.7">1:3</text><text class="r" x="10" y="34.3">R:619</text><text class="nb" x="9.5" y="45">Задерей П. А.</text></g>
<g id="m19" transform="translate(223.3 1340.7)"><use href="#mf"/><text class="c" x="104.5" y="29.3">19</text><text class="nb" x="9.5" y="14.5">Бугай А. А.</text><text class="r" x="10" y="23.3">R:639</text><text class="s" x="65.4" y="30.7">3:1</text><text class="r" x="10" y="34.3">R:624</text><text x="9.5" y="45">Лотоха С. ?.</text></g>
<g id="m20" transform="translate(223.3 1430.7)"><use href="#mf"/><text class="c" x="104.5" y="29.3">20</text><text x="9.5" y="14.5">Садченко А. В.</text><text class="r" x="10" y="23.3">R:496</text><text class="s" x="65.4" y="30.7">0:3</text><text class="r" x="10" y="34.3">R:720</text><text class="nb" x="9.5" y="45">Дубровин Д. Е.</text><use href="#sB"/><text class="c" x="-16.6" y="44">2</text></g>
<g id="m21" transform="translate(398.3 815.7)"><use href="#mf"/><text class="c" x="104.5" y="29.3">21</text><text class="nb" x="9.5" y="14.5">Звинко А. В.</text><text class="r" x="10" y="23.3">R:750</text><text class="s" x="65.4" y="30.7">3:1</text><text class="r" x="10" y="34.3">R:504</text><text x="9.5" y="45">Литвиненко Н....</text></g>
<g id="m22" transform="translate(398.3 1025.7)"><use href="#mf"/><text class="c" x="104.5" y="29.3">22</text><text x="9.5" y="14.5">Оглода Р. Л.</text><text class="r" x="10" y="23.3">R:610</text><text class="s" x="65.4" y="30.7">1:3</text><text class="r" x="10" y="34.3">R:683</text><text class="nb" x="9.5" y="45">Редьков А. А.</text></g>
<g id="m23" transform="translate(398.3 1175.7)"><use href="#mf"/><text class="c" x="104.5" y="29.3">23</text><text x="9.5" y="14.5">Иванов Л. Л.</text><text class="r" x="10" y="23.3">R:660</text><text class="s" x="65.4" y="30.7">2:3</text><text class="r" x="10" y="34.3">R:619</text><text class="nb" x="9.5" y="45">Задерей П. А.</text></g>
<g id="m24" transform="translate(398.3 1385.7)"><use href="#mf"/><text class="c" x="104.5" y="29.3">24</text><text x="9.5" y="14.5">Бугай А. А.</text><text class="r" x="10" y="23.3">R:639</text><text class="s" x="65.4" y="30.7">1:3</text><text class="r" x="10" y="34.3">R:720</text><text class="nb" x="9.5" y="45">Дубровин Д. Е.</text></g>
<g id="m25" transform="translate(573.3 920.7)"><use href="#mf"/><text class="c" x="104.5" y="29.3">25</text><text class="nb" x="9.5" y="14.5">Звинко А. В.</text><text class="r" x="10" y="23.3">R:750</text><text class="s" x="65.4" y="30.7">3:0</text><text class="r" x="10" y="34.3">R:683</text><text x="9.5" y="45">Редьков А. А.</text></g>
<g id="m26" transform="translate(573.3 1280.7)"><use href="#mf"/><text class="c" x="104.5" y="29.3">26</text><text class="nb" x="9.5" y="14.5">Задерей П. А.</text><text class="r" x="10" y="23.3">R:619</text><text class="s" x="65.4" y="30.7">3:2</text><text class="r" x="10" y="34.3">R:720</text><text x="9.5" y="45">Дубровин Д. Е.</text></g>
<g id="m27" transform="translate(748.3 1100.7)"><use href="#mf"/><text class="c" x="104.5" y="29.3">27</text><text class="nb" x="9.5" y="14.5">Звинко А. В.</text><text class="r" x="10" y="23.3">R:750</text><text class="s" x="65.4" y="30.7">3:0</text><text class="r" x="10" y="34.3">R:619</text><text x="9.5" y="45">Задерей П. А.</text><use href="#pT" fill="#fff"/><text class="p" x="118.2" y="11">1</text><use href="#pB" fill="#fff"/><text class="p" x="118.2" y="47">2</text></g>
</g>

<g id="consolation-3-24">
<g id="m28" transform="translate(48.3 1585.7)"><use href="#mf"/><text class="c" x="104.5" y="29.3">28</text><text class="nb" x="9.5" y="14.5">Устинов К. ?.</text><text class="r" x="10" y="23.3">R:308</text><text class="s" x="65.4" y="30.7">3:0</text><text class="r" x="10" y="34.3">R:300</text><text x="9.5" y="45">Игнатенко П. ?.</text><use href="#sT"/><text class="c" x="-16.6" y="14">-2</text><use href="#sB"/><text class="c" x="-16.6" y="44">-3</text></g>
<g id="m29" transform="translate(48.3 1645.7)"><use href="#mf"/><text class="c" x="104.5" y="29.3">29</text><text x="9.5" y="14.5">Чумаченко ?. ?.</text><text class="r" x="10" y="23.3">R:287</text><text class="s" x="65.4" y="30.7">0:3</text><text class="r" x="10" y="34.3">R:328</text><text class="nb" x="9.5" y="45">Кизян ?. ?.</text><use href="#sT"/><text class="c" x="-16.6" y="14">-4</text><use href="#sB"/><text class="c" x="-16.6" y="44">-5</text></g>
<g id="m30" transform="translate(48.3 1825.7)"><use href="#mf"/><text class="c" x="104.5" y="29.3">30</text><text class="nb" x="9.5" y="14.5">Цуркан А. ?.</text><text class="r" x="10" y="23.3">R:304</text><text class="s" x="65.4" y="30.7">3:2</text><text class="r" x="10" y="34.3">R:198</text><text x="9.5" y="45">Запорожец А. С.</text><use href="#sT"/><text class="c" x="-16.6" y="14">-8</text><use href="#sB"/><text class="c" x="-16.6" y="44">-9</text></g>
<g id="m31" transform="translate(48.3 1885.7)"><use href="#mf"/><text class="c" x="104.5" y="29.3">31</text><text x="9.5" y="14.5">Иванов Н. ?.</text><text class="r" x="10" y="23.3">R:315</text><text class="s" x="65.4" y="30.7">0:3</text><text class="r" x="10" y="34.3">R:321</text><text class="nb" x="9.5" y="45">Дмитренко Г. ?.</text><use href="#sT"/><text class="c" x="-16.6" y="14">-10</text><use href="#sB"/><text class="c" x="-16.6" y="44">-11</text></g>
<g id="m32" transform="translate(223.3 1525.7)"><use href="#mf"/><text class="c" x="104.5" y="29.3">32</text><text class="nb" x="9.5" y="14.5">Садченко А. В.</text><text class="r" x="10" y="23.3">R:496</text><text class="s" x="65.4" y="30.7">3:0</text><text class="r" x="10" y="34.3">R:337</text><text x="9.5" y="45">Рощеня Ю. Е.</text><use href="#sT"/><text class="c" x="-16.6" y="14">-20</text><use href="#sB"/><text class="c" x="-16.6" y="44">-1</text></g>
<g id="m33" transform="translate(223.3 1585.7)"><use href="#mf"/><text class="c" x="104.5" y="29.3">33</text><text class="nb" x="9.5" y="14.5">Лотоха С. ?.</text><text class="r" x="10" y="23.3">R:624</text><text class="s" x="65.4" y="30.7">3:0</text><text class="r" x="10" y="34.3">R:308</text><text x="9.5" y="45">Устинов К. ?.</text><use href="#sT"/><text class="c" x="-16.6" y="14">-19</text></g>
<g id="m34" transform="translate(223.3 1645.7)"><use href="#mf"/><text class="c" x="104.5" y="29.3">34</text><text class="nb" x="9.5" y="14.5">Мигали С. И.</text><text class="r" x="10" y="23.3">R:500</text><text class="s" x="65.4" y="30.7">3:0</text><text class="r" x="10" y="34.3">R:328</text><text x="9.5" y="45">Кизян ?. ?.</text><use href="#sT"/><text class="c" x="-16.6" y="14">-18</text></g>
<g id="m35" transform="translate(223.3 1705.7)"><use href="#mf"/><text class="c" x="104.5" y="29.3">35</text><text class="nb" x="9.5" y="14.5">Горячев А. ?.</text><text class="r" x="10" y="23.3">R:442</text><text class="s" x="65.4" y="30.7">3:0</text><text class="r" x="10" y="34.3">R:300</text><text x="9.5" y="45">Стрижевский Е...</text><use href="#sT"/><text class="c" x="-16.6" y="14">-17</text><use href="#sB"/><text class="c" x="-16.6" y="44">-6</text></g>
<g id="m36" transform="translate(223.3 1765.7)"><use href="#mf"/><text class="c" x="104.5" y="29.3">36</text><text class="nb" x="9.5" y="14.5">Монолаки И. В.</text><text class="r" x="10" y="23.3">R:521</text><text class="s" x="65.4" y="30.7">3:0</text><text class="r" x="10" y="34.3">R:313</text><text x="9.5" y="45">Серт П. В.</text><use href="#sT"/><text class="c" x="-16.6" y="14">-16</text><use href="#sB"/><text class="c" x="-16.6" y="44">-7</text></g>
<g id="m37" transform="translate(223.3 1825.7)"><use href="#mf"/><text class="c" x="104.5" y="29.3">37</text><text class="nb" x="9.5" y="14.5">Евтодий В. И.</text><text class="r" x="10" y="23.3">R:667</text><text class="s" x="65.4" y="30.7">3:0</text><text class="r" x="10" y="34.3">R:304</text><text x="9.5" y="45">Цуркан А. ?.</text><use href="#sT"/><text class="c" x="-16.6" y="14">-15</text></g>
<g id="m38" transform="translate(223.3 1885.7)"><use href="#mf"/><text class="c" x="104.5" y="29.3">38</text><text class="nb" x="9.5" y="14.5">Сиренко О. ?.</text><text class="r" x="10" y="23.3">R:557</text><text class="s" x="65.4" y="30.7">3:0</text><text class="r" x="10" y="34.3">R:321</text><text x="9.5" y="45">Дмитренко Г. ?.</text><use href="#sT"/><text class="c" x="-16.6" y="14">-14</text></g>
<g id="m39" transform="translate(223.3 1945.7)"><use href="#mf"/><text class="c" x="104.5" y="29.3">39</text><text class="nb" x="9.5" y="14.5">Чмихаленко А....</text><text class="r" x="10" y="23.3">R:333</text><text class="s" x="65.4" y="30.7">3:2</text><text class="r" x="10" y="34.3">R:360</text><text x="9.5" y="45">Тупик А. И.</text><use href="#sT"/><text class="c" x="-16.6" y="14">-13</text><use href="#sB"/><text class="c" x="-16.6" y="44">-12</text></g>
<g id="m40" transform="translate(398.3 1555.7)"><use href="#mf"/><text class="c" x="104.5" y="29.3">40</text><text x="9.5" y="14.5">Садченко А. В.</text><text class="r" x="10" y="23.3">R:496</text><text class="s" x="65.4" y="30.7">1:3</text><text class="r" x="10" y="34.3">R:624</text><text class="nb" x="9.5" y="45">Лотоха С. ?.</text></g>
<g id="m41" transform="translate(398.3 1675.7)"><use href="#mf"/><text class="c" x="104.5" y="29.3">41</text><text x="9.5" y="14.5">Мигали С. И.</text><text class="r" x="10" y="23.3">R:500</text><text class="s" x="65.4" y="30.7">1:3</text><text class="r" x="10" y="34.3">R:442</text><text class="nb" x="9.5" y="45">Горячев А. ?.</text></g>
<g id="m42" transform="translate(398.3 1795.7)"><use href="#mf"/><text class="c" x="104.5" y="29.3">42</text><text x="9.5" y="14.5">Монолаки И. В.</text><text class="r" x="10" y="23.3">R:521</text><text class="s" x="65.4" y="30.7">0:3</text><text class="r" x="10" y="34.3">R:667</text><text class="nb" x="9.5" y="45">Евтодий В. И.</text></g>
<g id="m43" transform="translate(398.3 1915.7)"><use href="#mf"/><text class="c" x="104.5" y="29.3">43</text><text class="nb" x="9.5" y="14.5">Сиренко О. ?.</text><text class="r" x="10" y="23.3">R:557</text><text class="s" x="65.4" y="30.7">3:0</text><text class="r" x="10" y="34.3">R:333</text><text x="9.5" y="45">Чмихаленко А....</text></g>
<g id="m44" transform="translate(573.3 1555.7)"><use href="#mf"/><text class="c" x="104.5" y="29.3">44</text><text x="9.5" y="14.5">Литвиненко Н....</text><text class="r" x="10" y="23.3">R:504</text><text class="s" x="65.4" y="30.7">2:3</text><text class="r" x="10" y="34.3">R:624</text><text class="nb" x="9.5" y="45">Лотоха С. ?.</text><use href="#sT"/><text class="c" x="-16.6" y="14">-21</text></g>
<g id="m45" transform="translate(573.3 1675.7)"><use href="#mf"/><text class="c" x="104.5" y="29.3">45</text><text class="nb" x="9.5" y="14.5">Оглода Р. Л.</text><text class="r" x="10" y="23.3">R:610</text><text class="s" x="65.4" y="30.7">3:1</text><text class="r" x="10" y="34.3">R:442</text><text x="9.5" y="45">Горячев А. ?.</text><use href="#sT"/><text class="c" x="-16.6" y="14">-22</text></g>
<g id="m46" transform="translate(573.3 1795.7)"><use href="#mf"/><text class="c" x="104.5" y="29.3">46</text><text class="nb" x="9.5" y="14.5">Иванов Л. Л.</text><text class="r" x="10" y="23.3">R:660</text><text class="s" x="65.4" y="30.7">3:1</text><text class="r" x="10" y="34.3">R:667</text><text x="9.5" y="45">Евтодий В. И.</text><use href="#sT"/><text class="c" x="-16.6" y="14">-23</text></g>
<g id="m47" transform="translate(573.3 1915.7)"><use href="#mf"/><text class="c" x="104.5" y="29.3">47</text><text class="nb" x="9.5" y="14.5">Бугай А. А.</text><text class="r" x="10" y="23.3">R:639</text><text class="s" x="65.4" y="30.7">3:1</text><text class="r" x="10" y="34.3">R:557</text><text x="9.5" y="45">Сиренко О. ?.</text><use href="#sT"/><text class="c" x="-16.6" y="14">-24</text></g>
<g id="m48" transform="translate(748.3 1615.7)"><use href="#mf"/><text class="c" x="104.5" y="29.3">48</text><text class="nb" x="9.5" y="14.5">Лотоха С. ?.</text><text class="r" x="10" y="23.3">R:624</text><text class="s" x="65.4" y="30.7">3:1</text><text class="r" x="10" y="34.3">R:610</text><text x="9.5" y="45">Оглода Р. Л.</text></g>
<g id="m49" transform="translate(748.3 1855.7)"><use href="#mf"/><text class="c" x="104.5" y="29.3">49</text><text x="9.5" y="14.5">Иванов Л. Л.</text><text class="r" x="10" y="23.3">R:660</text><text class="s" x="65.4" y="30.7">1:3</text><text class="r" x="10" y="34.3">R:639</text><text class="nb" x="9.5" y="45">Бугай А. А.</text></g>
<g id="m50" transform="translate(923.3 1615.7)"><use href="#mf"/><text class="c" x="104.5" y="29.3">50</text><text class="nb" x="9.5" y="14.5">Дубровин Д. Е.</text><text class="r" x="10" y="23.3">R:720</text><text class="s" x="65.4" y="30.7">3:1</text><text class="r" x="10" y="34.3">R:624</text><text x="9.5" y="45">Лотоха С. ?.</text><use href="#sT"/><text class="c" x="-16.6" y="14">-26</text></g>
<g id="m51" transform="translate(923.3 1855.7)"><use href="#mf"/><text class="c" x="104.5" y="29.3">51</text><text class="nb" x="9.5" y="14.5">Редьков А. А.</text><text class="r" x="10" y="23.3">R:683</text><text class="s" x="65.4" y="30.7">3:1</text><text class="r" x="10" y="34.3">R:639</text><text x="9.5" y="45">Бугай А. А.</text><use href="#sT"/><text class="c" x="-16.6" y="14">-25</text></g>
<g id="m52" transform="translate(1098.3 1735.7)"><use href="#mf"/><text class="c" x="104.5" y="29.3">52</text><text class="nb" x="9.5" y="14.5">Дубровин Д. Е.</text><text class="r" x="10" y="23.3">R:720</text><text class="s" x="65.4" y="30.7">3:1</text><text class="r" x="10" y="34.3">R:683</text><text x="9.5" y="45">Редьков А. А.</text><use href="#pT" fill="#e0ffff"/><text class="p" x="118.2" y="11">3</text><use href="#pB" fill="#e0ffff"/><text class="p" x="118.2" y="47">4</text></g>
</g>

<g id="places-17-24">
<g id="m63" transform="translate(48.3 2040.7)"><use href="#mf"/><text class="c" x="104.5" y="29.3">63</text><text class="nb" x="9.5" y="14.5">Рощеня Ю. Е.</text><text class="r" x="10" y="23.3">R:337</text><text class="s" x="65.4" y="30.7">3:1</text><text class="r" x="10" y="34.3">R:308</text><text x="9.5" y="45">Устинов К. ?.</text><use href="#sT"/><text class="c" x="-16.6" y="14">-32</text><use href="#sB"/><text class="c" x="-16.6" y="44">-33</text></g>
<g id="m64" transform="translate(48.3 2100.7)"><use href="#mf"/><text class="c" x="104.5" y="29.3">64</text><text class="nb" x="9.5" y="14.5">Кизян ?. ?.</text><text class="r" x="10" y="23.3">R:328</text><text class="s" x="65.4" y="30.7">3:1</text><text class="r" x="10" y="34.3">R:300</text><text x="9.5" y="45">Стрижевский Е...</text><use href="#sT"/><text class="c" x="-16.6" y="14">-34</text><use href="#sB"/><text class="c" x="-16.6" y="44">-35</text></g>
<g id="m65" transform="translate(48.3 2160.7)"><use href="#mf"/><text class="c" x="104.5" y="29.3">65</text><text class="nb" x="9.5" y="14.5">Серт П. В.</text><text class="r" x="10" y="23.3">R:313</text><text class="s" x="65.4" y="30.7">3:1</text><text class="r" x="10" y="34.3">R:304</text><text x="9.5" y="45">Цуркан А. ?.</text><use href="#sT"/><text class="c" x="-16.6" y="14">-36</text><use href="#sB"/><text class="c" x="-16.6" y="44">-37</text></g>
<g id="m66" transform="translate(48.3 2220.7)"><use href="#mf"/><text class="c" x="104.5" y="29.3">66</text><text class="nb" x="9.5" y="14.5">Дмитренко Г. ?.</text><text class="r" x="10" y="23.3">R:321</text><text class="s" x="65.4" y="30.7">3:1</text><text class="r" x="10" y="34.3">R:360</text><text x="9.5" y="45">Тупик А. И.</text><use href="#sT"/><text class="c" x="-16.6" y="14">-38</text><use href="#sB"/><text class="c" x="-16.6" y="44">-39</text></g>
<g id="m67" transform="translate(223.3 2070.7)"><use href="#mf"/><text class="c" x="104.5" y="29.3">67</text><text x="9.5" y="14.5">Рощеня Ю. Е.</text><text class="r" x="10" y="23.3">R:337</text><text class="s" x="65.4" y="30.7">2:3</text><text class="r" x="10" y="34.3">R:328</text><text class="nb" x="9.5" y="45">Кизян ?. ?.</text></g>
<g id="m68" transform="translate(223.3 2190.7)"><use href="#mf"/><text class="c" x="104.5" y="29.3">68</text><text class="nb" x="9.5" y="14.5">Серт П. В.</text><text class="r" x="10" y="23.3">R:313</text><text class="s" x="65.4" y="30.7">3:2</text><text class="r" x="10" y="34.3">R:321</text><text x="9.5" y="45">Дмитренко Г. ?.</text></g>
<g id="m69" transform="translate(398.3 2130.7)"><use href="#mf"/><text class="c" x="104.5" y="29.3">69</text><text class="nb" x="9.5" y="14.5">Кизян ?. ?.</text><text class="r" x="10" y="23.3">R:328</text><text class="s" x="65.4" y="30.7">3:1</text><text class="r" x="10" y="34.3">R:313</text><text x="9.5" y="45">Серт П. В.</text><use href="#pT" fill="#ffffe0"/><text class="p" x="118.2" y="11">17</text><use href="#pB" fill="#ffffe0"/><text class="p" x="118.2" y="47">18</text></g>
</g>

<g id="places-9-12">
<g id="m55" transform="translate(573.3 2040.7)"><use href="#mf"/><text class="c" x="104.5" y="29.3">55</text><text x="9.5" y="14.5">Литвиненко Н....</text><text class="r" x="10" y="23.3">R:504</text><text class="s" x="65.4" y="30.7">Тех</text><text class="r" x="10" y="34.3">R:442</text><text class="nb" x="9.5" y="45">Горячев А. ?.</text><use href="#sT"/><text class="c" x="-16.6" y="14">-44</text><use href="#sB"/><text class="c" x="-16.6" y="44">-45</text></g>
<g id="m56" transform="translate(573.3 2100.7)"><use href="#mf"/><text class="c" x="104.5" y="29.3">56</text><text class="nb" x="9.5" y="14.5">Евтодий В. И.</text><text class="r" x="10" y="23.3">R:667</text><text class="s" x="65.4" y="30.7">Тех</text><text class="r" x="10" y="34.3">R:557</text><text x="9.5" y="45">Сиренко О. ?.</text><use href="#sT"/><text class="c" x="-16.6" y="14">-46</text><use href="#sB"/><text class="c" x="-16.6" y="44">-47</text></g>
<g id="m57" transform="translate(748.3 2070.7)"><use href="#mf"/><text class="c" x="104.5" y="29.3">57</text><text x="9.5" y="14.5">Горячев А. ?.</text><text class="r" x="10" y="23.3">R:442</text><text class="s" x="65.4" y="30.7">1:3</text><text class="r" x="10" y="34.3">R:667</text><text class="nb" x="9.5" y="45">Евтодий В. И.</text><use href="#pT" fill="#ffffe0"/><text class="p" x="118.2" y="11">10</text><use href="#pB" fill="#ffffe0"/><text class="p" x="118.2" y="47">9</text></g>
</g>

<g id="places-small">
<g id="m54" transform="translate(923.3 2040.7)"><use href="#mf"/><text class="c" x="104.5" y="29.3">54</text><text class="nb" x="9.5" y="14.5">Оглода Р. Л.</text><text class="r" x="10" y="23.3">R:610</text><text class="s" x="65.4" y="30.7">3:2</text><text class="r" x="10" y="34.3">R:660</text><text x="9.5" y="45">Иванов Л. Л.</text><use href="#sT"/><text class="c" x="-16.6" y="14">-48</text><use href="#sB"/><text class="c" x="-16.6" y="44">-49</text><use href="#pT" fill="#ffffe0"/><text class="p" x="118.2" y="11">7</text><use href="#pB" fill="#ffffe0"/><text class="p" x="118.2" y="47">8</text></g>
<g id="m53" transform="translate(1098.3 2040.7)"><use href="#mf"/><text class="c" x="104.5" y="29.3">53</text><text class="nb" x="9.5" y="14.5">Лотоха С. ?.</text><text class="r" x="10" y="23.3">R:624</text><text class="s" x="65.4" y="30.7">3:2</text><text class="r" x="10" y="34.3">R:639</text><text x="9.5" y="45">Бугай А. А.</text><use href="#sT"/><text class="c" x="-16.6" y="14">-50</text><use href="#sB"/><text class="c" x="-16.6" y="44">-51</text><use href="#pT" fill="#ffffe0"/><text class="p" x="118.2" y="11">5</text><use href="#pB" fill="#ffffe0"/><text class="p" x="118.2" y="47">6</text></g>
<g id="m62" transform="translate(923.3 2135.7)"><use href="#mf"/><text class="c" x="104.5" y="29.3">62</text><text class="nb" x="9.5" y="14.5">Садченко А. В.</text><text class="r" x="10" y="23.3">R:496</text><text class="s" x="65.4" y="30.7">3:0</text><text class="r" x="10" y="34.3">R:333</text><text x="9.5" y="45">Чмихаленко А....</text><use href="#sT"/><text class="c" x="-16.6" y="14">-59</text><use href="#sB"/><text class="c" x="-16.6" y="44">-60</text><use href="#pT" fill="#ffffe0"/><text class="p" x="118.2" y="11">15</text><use href="#pB" fill="#ffffe0"/><text class="p" x="118.2" y="47">16</text></g>
<g id="m58" transform="translate(1098.3 2135.7)"><use href="#mf"/><text class="c" x="104.5" y="29.3">58</text><text x="9.5" y="14.5">Литвиненко Н....</text><text class="r" x="10" y="23.3">R:504</text><text class="tx" x="65.4" y="30.7">Тех</text><text class="r" x="10" y="34.3">R:557</text><text x="9.5" y="45">Сиренко О. ?.</text><use href="#sT"/><text class="c" x="-16.6" y="14">-55</text><use href="#sB"/><text class="c" x="-16.6" y="44">-56</text><use href="#pT" fill="#ffffe0"/><text class="p" x="118.2" y="11">12</text><use href="#pB" fill="#ffffe0"/><text class="p" x="118.2" y="47">12</text></g>
</g>

<g id="places-lower">
<g id="m75" transform="translate(48.3 2316.1)"><use href="#mf"/><text class="c" x="104.5" y="29.3">75</text><text class="nb" x="9.5" y="14.5">Игнатенко П. ?.</text><text class="r" x="10" y="23.3">R:300</text><text class="s" x="65.4" y="30.7">3:0</text><text class="r" x="10" y="34.3">R:287</text><text x="9.5" y="45">Чумаченко ?. ?.</text><use href="#sT"/><text class="c" x="-16.6" y="14">-28</text><use href="#sB"/><text class="c" x="-16.6" y="44">-29</text></g>
<g id="m76" transform="translate(48.3 2376.1)"><use href="#mf"/><text class="c" x="104.5" y="29.3">76</text><text x="9.5" y="14.5">Запорожец А. С.</text><text class="r" x="10" y="23.3">R:198</text><text class="s" x="65.4" y="30.7">0:3</text><text class="r" x="10" y="34.3">R:315</text><text class="nb" x="9.5" y="45">Иванов Н. ?.</text><use href="#sT"/><text class="c" x="-16.6" y="14">-30</text><use href="#sB"/><text class="c" x="-16.6" y="44">-31</text></g>
<g id="m77" transform="translate(223.3 2346.1)"><use href="#mf"/><text class="c" x="104.5" y="29.3">77</text><text x="9.5" y="14.5">Игнатенко П. ?.</text><text class="r" x="10" y="23.3">R:300</text><text class="s" x="65.4" y="30.7">1:3</text><text class="r" x="10" y="34.3">R:315</text><text class="nb" x="9.5" y="45">Иванов Н. ?.</text><use href="#pT" fill="#ffffe0"/><text class="p" x="118.2" y="11">26</text><use href="#pB" fill="#ffffe0"/><text class="p" x="118.2" y="47">25</text></g>
<g id="m71" transform="translate(398.3 2316.1)"><use href="#mf"/><text class="c" x="104.5" y="29.3">71</text><text class="nb" x="9.5" y="14.5">Устинов К. ?.</text><text class="r" x="10" y="23.3">R:308</text><text class="s" x="65.4" y="30.7">3:2</text><text class="r" x="10" y="34.3">R:300</text><text x="9.5" y="45">Стрижевский Е...</text><use href="#sT"/><text class="c" x="-16.6" y="14">-63</text><use href="#sB"/><text class="c" x="-16.6" y="44">-64</text></g>
<g id="m72" transform="translate(398.3 2376.1)"><use href="#mf"/><text class="c" x="104.5" y="29.3">72</text><text x="9.5" y="14.5">Цуркан А. ?.</text><text class="r" x="10" y="23.3">R:304</text><text class="s" x="65.4" y="30.7">0:3</text><text class="r" x="10" y="34.3">R:360</text><text class="nb" x="9.5" y="45">Тупик А. И.</text><use href="#sT"/><text class="c" x="-16.6" y="14">-65</text><use href="#sB"/><text class="c" x="-16.6" y="44">-66</text></g>
<g id="m73" transform="translate(573.3 2346.1)"><use href="#mf"/><text class="c" x="104.5" y="29.3">73</text><text x="9.5" y="14.5">Устинов К. ?.</text><text class="r" x="10" y="23.3">R:308</text><text class="s" x="65.4" y="30.7">1:3</text><text class="r" x="10" y="34.3">R:360</text><text class="nb" x="9.5" y="45">Тупик А. И.</text><use href="#pT" fill="#ffffe0"/><text class="p" x="118.2" y="11">22</text><use href="#pB" fill="#ffffe0"/><text class="p" x="118.2" y="47">21</text></g>
<g id="m59" transform="translate(748.3 2316.1)"><use href="#mf"/><text class="c" x="104.5" y="29.3">59</text><text x="9.5" y="14.5">Садченко А. В.</text><text class="r" x="10" y="23.3">R:496</text><text class="s" x="65.4" y="30.7">1:3</text><text class="r" x="10" y="34.3">R:500</text><text class="nb" x="9.5" y="45">Мигали С. И.</text><use href="#sT"/><text class="c" x="-16.6" y="14">-40</text><use href="#sB"/><text class="c" x="-16.6" y="44">-41</text></g>
<g id="m60" transform="translate(748.3 2376.1)"><use href="#mf"/><text class="c" x="104.5" y="29.3">60</text><text class="nb" x="9.5" y="14.5">Монолаки И. В.</text><text class="r" x="10" y="23.3">R:521</text><text class="s" x="65.4" y="30.7">3:0</text><text class="r" x="10" y="34.3">R:333</text><text x="9.5" y="45">Чмихаленко А....</text><use href="#sT"/><text class="c" x="-16.6" y="14">-42</text><use href="#sB"/><text class="c" x="-16.6" y="44">-43</text></g>
<g id="m61" transform="translate(923.3 2346.1)"><use href="#mf"/><text class="c" x="104.5" y="29.3">61</text><text x="9.5" y="14.5">Мигали С. И.</text><text class="r" x="10" y="23.3">R:500</text><text class="s" x="65.4" y="30.7">1:3</text><text class="r" x="10" y="34.3">R:521</text><text class="nb" x="9.5" y="45">Монолаки И. В.</text><use href="#pT" fill="#ffffe0"/><text class="p" x="118.2" y="11">14</text><use href="#pB" fill="#ffffe0"/><text class="p" x="118.2" y="47">13</text></g>
<g id="m70" transform="translate(1098.3 2316.1)"><use href="#mf"/><text class="c" x="104.5" y="29.3">70</text><text class="nb" x="9.5" y="14.5">Рощеня Ю. Е.</text><text class="r" x="10" y="23.3">R:337</text><text class="s" x="65.4" y="30.7">3:1</text><text class="r" x="10" y="34.3">R:321</text><text x="9.5" y="45">Дмитренко Г. ?.</text><use href="#sT"/><text class="c" x="-16.6" y="14">-67</text><use href="#sB"/><text class="c" x="-16.6" y="44">-68</text><use href="#pT" fill="#ffffe0"/><text class="p" x="118.2" y="11">19</text><use href="#pB" fill="#ffffe0"/><text class="p" x="118.2" y="47">20</text></g>
<g id="m78" transform="translate(48.3 2470.7)"><use href="#mf"/><text class="c" x="104.5" y="29.3">78</text><text class="nb" x="9.5" y="14.5">Чумаченко ?. ?.</text><text class="r" x="10" y="23.3">R:287</text><text class="s" x="65.4" y="30.7">3:0</text><text class="r" x="10" y="34.3">R:198</text><text x="9.5" y="45">Запорожец А. С.</text><use href="#sT"/><text class="c" x="-16.6" y="14">-75</text><use href="#sB"/><text class="c" x="-16.6" y="44">-76</text><use href="#pT" fill="#ffffe0"/><text class="p" x="118.2" y="11">27</text><use href="#pB" fill="#ffffe0"/><text class="p" x="118.2" y="47">28</text></g>
<g id="m74" transform="translate(223.3 2470.7)"><use href="#mf"/><text class="c" x="104.5" y="29.3">74</text><text class="nb" x="9.5" y="14.5">Стрижевский Е...</text><text class="r" x="10" y="23.3">R:300</text><text class="s" x="65.4" y="30.7">3:1</text><text class="r" x="10" y="34.3">R:304</text><text x="9.5" y="45">Цуркан А. ?.</text><use href="#sT"/><text class="c" x="-16.6" y="14">-71</text><use href="#sB"/><text class="c" x="-16.6" y="44">-72</text><use href="#pT" fill="#ffffe0"/><text class="p" x="118.2" y="11">23</text><use href="#pB" fill="#ffffe0"/><text class="p" x="118.2" y="47">24</text></g>
</g>
</svg>
